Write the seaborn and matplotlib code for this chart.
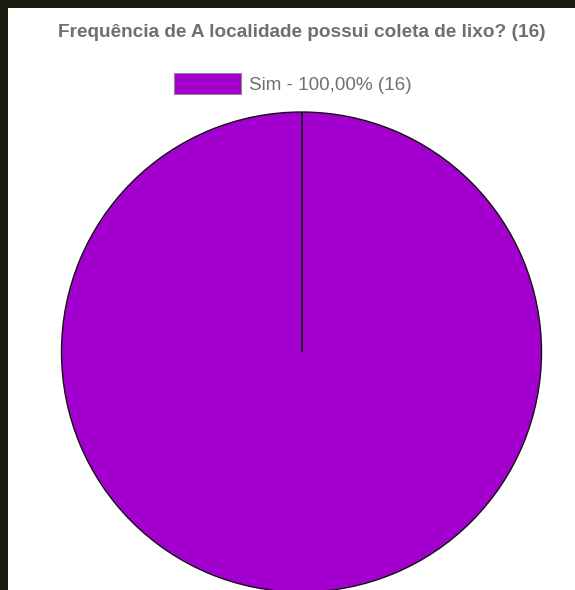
import matplotlib
matplotlib.use("Agg")
import matplotlib.pyplot as plt
from matplotlib.patches import Patch, Rectangle
import seaborn as sns

# Survey answers
question = "A localidade possui coleta de lixo?"
categories = ["Sim"]
counts = [16]
colors = ["#a300cf"]

sns.set_style("white")
plt.rcParams["font.family"] = ["Liberation Sans", "DejaVu Sans"]

W, H = 575, 590
fig = plt.figure(figsize=(W / 100, H / 100), dpi=100, facecolor="#1b1a0f")

# white panel inside the dark frame
fig.patches.append(Rectangle((8 / W, 0), 1 - 8 / W, 1 - 8 / H,
                             transform=fig.transFigure, facecolor="white",
                             edgecolor="none", zorder=-10))

total = sum(counts)

# pie axes: centre (301.5, 352) px, radius 240 px
cx, cy, r = 301.5, 352, 240
ax = fig.add_axes([(cx - r) / W, (H - cy - r) / H, 2 * r / W, 2 * r / H])
ax.set_zorder(1)
ax.patch.set_visible(False)
wedges, _ = ax.pie(counts, colors=colors, startangle=90, counterclock=False,
                   radius=1, wedgeprops=dict(edgecolor="#111111", linewidth=1.0))
ax.set_xlim(-1.0, 1.0)
ax.set_ylim(-1.0, 1.0)
ax.set_aspect("auto")
ax.axis("off")
# boundary of the starting slice
ax.plot([0, 0], [0, 1], color="#111111", lw=1.2, solid_capstyle="butt")

fig.text(cx / W, 1 - 32.5 / H, f"Frequência de {question} ({total})",
         ha="center", va="center", fontsize=13.7, fontweight="bold",
         color="#6f6f6f", zorder=2)

labels = [f"{c} - {n / total * 100:.2f}% ({n})".replace(".", ",")
          for c, n in zip(categories, counts)]
handles = [Patch(facecolor=col, edgecolor="#8a8a8a", linewidth=0.8)
           for col in colors]
fs = 13.6
px = fs * 100 / 72
leg = fig.legend(handles, labels, loc="center left",
                 bbox_to_anchor=(174 / W, 1 - 83.5 / H), frameon=False,
                 fontsize=fs, borderpad=0, borderaxespad=0,
                 handlelength=67 / px, handleheight=21 / px * 1.2,
                 handletextpad=0.4, labelcolor="#707070")
leg.set_zorder(2)

fig.savefig("out.png", dpi=100, facecolor=fig.get_facecolor())
